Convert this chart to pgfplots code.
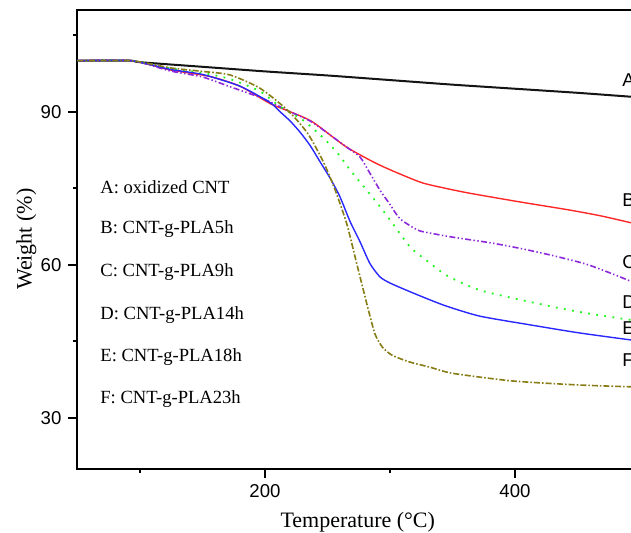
\documentclass[border=0pt]{standalone}
\usepackage{fontspec}
\setmainfont{Liberation Serif}
\setsansfont{Liberation Sans}
\usepackage{pgfplots}
\pgfplotsset{compat=1.18}
\definecolor{cA}{RGB}{20,20,20}
\definecolor{cB}{RGB}{255,40,40}
\definecolor{cC}{RGB}{140,40,220}
\definecolor{cD}{RGB}{30,245,30}
\definecolor{cE}{RGB}{40,40,255}
\definecolor{cF}{RGB}{135,125,20}
\begin{document}
\begin{tikzpicture}
\begin{axis}[
  scale only axis,
  width=293.75pt, height=229.5pt,
  xmin=50, xmax=520, ymin=20, ymax=110,
  xtick={200,400}, minor xtick={100,300,500},
  ytick={30,60,90}, minor ytick={45,75,105},
  xtick pos=bottom, ytick pos=left,
  tick align=outside,
  major tick length=4.5pt, minor tick length=2.25pt,
  every tick/.style={black, line width=0.9pt},
  axis line style={line width=1pt, black},
  /pgf/number format/assume math mode=true,
  ticklabel style={font=\sffamily\fontsize{9.3}{11}\selectfont},
  xlabel={Temperature (°C)},
  ylabel={Weight (\%)},
  label style={font=\fontsize{11}{13}\selectfont},
  xlabel style={at={(axis description cs:0.477,-0.116)}, anchor=center},
  ylabel style={at={(axis description cs:-0.087,0.5)}, anchor=center},
  clip mode=individual,
  every axis plot/.append style={smooth, tension=0.4},
]
\addplot[cA, line width=1pt] coordinates {(50,100)(92,100)(100,99.7)(150,98.8)(200,97.9)(250,97.1)(300,96.2)(350,95.3)(400,94.5)(450,93.7)(500,92.8)};
\addplot[cB, line width=0.7pt] coordinates {(50,100)(93,100)(124,98.2)(156,96.9)(180,95.0)(204,91.6)(220,90.0)(238,88.0)(265,83.1)(292,79.5)(324,76.2)(344,75.0)(364,74.0)(404,72.3)(444,70.7)(470,69.5)(500,67.8)};
\addplot[cC, line width=0.8pt, dash pattern=on 3pt off 1.2pt on 0.7pt off 1.2pt on 0.7pt off 1.2pt] coordinates {(50,100)(93,100)(124,98.0)(150,96.8)(172,94.9)(198,92.6)(220,90.0)(238,87.9)(265,83.1)(276,81.1)(284,77.9)(292,74.6)(300,71.8)(308,69.0)(322,66.8)(332,66.2)(350,65.4)(380,64.3)(404,63.2)(430,61.8)(457,60.1)(480,58.0)(500,56.0)};
\addplot[cD, line width=0.9pt, dash pattern=on 0.9pt off 3.2pt] coordinates {(50,100)(93,100)(124,98.5)(150,97.6)(172,96.4)(196,94.0)(212,91.0)(230,88.4)(246,85.0)(258,81.9)(268,78.6)(280,75.0)(290,72.0)(300,68.8)(316,63.5)(332,60.3)(346,57.8)(372,55.0)(412,52.7)(452,50.7)(500,48.9)};
\addplot[cE, line width=0.7pt] coordinates {(50,100)(93,100)(124,98.3)(150,97.3)(180,95.0)(204,91.8)(212,90.0)(220,88.2)(228,86.0)(236,83.4)(244,80.2)(252,77.0)(260,73.3)(268,68.5)(276,64.5)(284,60.2)(292,57.6)(300,56.4)(316,54.7)(332,53.1)(346,51.8)(372,49.9)(412,48.2)(452,46.6)(500,45.0)};
\addplot[cF, line width=0.8pt, dash pattern=on 3pt off 1pt on 0.8pt off 1pt] coordinates {(50,100)(93,100)(124,98.6)(150,97.9)(172,97.2)(196,94.6)(218,90.3)(234,85.8)(246,80.5)(254,76.0)(260,72.0)(266,67.5)(274,59.6)(282,51.8)(288,46.4)(294,43.8)(302,42.2)(316,40.9)(332,39.9)(350,38.7)(398,37.2)(452,36.4)(500,36.0)};
\begin{scope}[every node/.style={anchor=west, inner sep=0pt, font=\fontsize{9.3}{11}\selectfont}]
\node at (axis cs:68,75.2) {A: oxidized CNT};
\node at (axis cs:68,66.9) {B: CNT-g-PLA5h};
\node at (axis cs:68,58.6) {C: CNT-g-PLA9h};
\node at (axis cs:68,50.2) {D: CNT-g-PLA14h};
\node at (axis cs:68,41.9) {E: CNT-g-PLA18h};
\node at (axis cs:68,33.6) {F: CNT-g-PLA23h};
\end{scope}
\begin{scope}[every node/.style={anchor=west, inner sep=0pt, font=\sffamily\fontsize{9.3}{11}\selectfont}]
\node at (axis cs:485.6,96.2) {A};
\node at (axis cs:485.6,72.7) {B};
\node at (axis cs:485.6,60.5) {C};
\node at (axis cs:485.6,52.7) {D};
\node at (axis cs:485.6,47.6) {E};
\node at (axis cs:485.6,41.3) {F};
\end{scope}
\coordinate (pTL) at (axis cs:-12,111.9);
\coordinate (pBR) at (axis cs:492.8,7.4);
\end{axis}
\pgfresetboundingbox
\useasboundingbox (pTL) rectangle (pBR);
\end{tikzpicture}
\end{document}
